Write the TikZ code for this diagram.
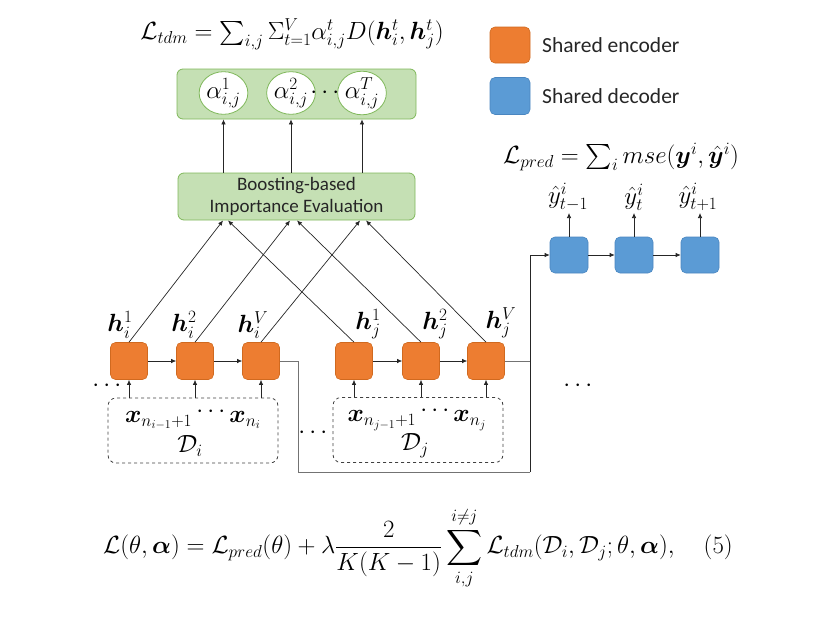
\documentclass[tikz,border=0pt]{standalone}
\usepackage{amsmath,amssymb}
\usepackage{bm}
\usepackage[no-math]{fontspec}
\newfontfamily\calibri{Carlito}
\usetikzlibrary{arrows.meta,shapes.geometric}
\definecolor{encfill}{HTML}{ED7D31}
\definecolor{encdraw}{HTML}{D0691F}
\definecolor{decfill}{HTML}{5B9BD5}
\definecolor{decdraw}{HTML}{4A86C0}
\definecolor{gfill}{HTML}{C5E0B4}
\definecolor{gdraw}{HTML}{7FB85A}
\begin{document}
\begin{tikzpicture}[x=1pt,y=-1pt,
  enc/.style={rectangle, rounded corners=5pt, fill=encfill, draw=encdraw, line width=0.6pt, minimum width=37pt, minimum height=37pt, inner sep=0pt},
  dec/.style={rectangle, rounded corners=5pt, fill=decfill, draw=decdraw, line width=0.6pt, minimum width=38pt, minimum height=36pt, inner sep=0pt},
  gbox/.style={rectangle, rounded corners=6pt, fill=gfill, draw=gdraw, line width=0.8pt, inner sep=0pt},
  ell/.style={ellipse, fill=white, draw=gdraw, line width=0.8pt, minimum width=46pt, minimum height=41pt, inner sep=0pt},
  dbox/.style={rectangle, rounded corners=8pt, draw=black!75, dashed, line width=0.8pt, minimum width=170pt, minimum height=65pt},
  arr/.style={-{Latex[length=5pt,width=4.5pt]}, line width=0.7pt, draw=black!85},
  gline/.style={line width=0.8pt, draw=black!55},
  mfont/.style={font=\fontsize{25}{30}\selectfont, inner sep=0pt},
  xfont/.style={font=\fontsize{23.5}{28}\selectfont, inner sep=0pt},
  afont/.style={font=\fontsize{27}{32}\selectfont},
  sfont/.style={font=\calibri\fontsize{21.5}{25}\selectfont, text=black!85, inner sep=0pt},
  bfont/.style={font=\calibri\fontsize{19}{22}\selectfont, text=black!85, align=center, inner sep=0pt}
]
\useasboundingbox (0,0) rectangle (833,627);

% top formula
\node[font=\fontsize{24}{28}\selectfont, inner sep=0pt] (ltdm) at (292,34) {$\mathcal{L}_{tdm}=\sum_{i,j}\Sigma_{t=1}^{V}\alpha_{i,j}^{t}D(\bm{h}_i^t,\bm{h}_j^t)$};

% legend
\node[enc, minimum width=40pt, minimum height=36pt] (lege) at (510,45) {};
\node[sfont, anchor=west] (legetxt) at (542,45) {Shared encoder};
\node[dec, minimum width=40pt, minimum height=37pt] (legd) at (510,96) {};
\node[sfont, anchor=west] (legdtxt) at (542,96) {Shared decoder};

% top green box with alphas
\node[gbox, minimum width=239pt, minimum height=50pt] (top) at (296.5,94) {};
\node[ell, afont] (c1) at (223.5,93) {$\alpha_{i,j}^{1}$};
\node[ell, afont] (c2) at (291,93) {$\alpha_{i,j}^{2}$};
\node[ell, afont] (c3) at (362,93) {$\alpha_{i,j}^{T}$};
\node[mfont] (cdots) at (327,93) {$\cdots$};

% boosting box
\node[gbox, bfont, minimum width=237pt, minimum height=47pt] (boost) at (296.5,196.5) {Boosting-based\\Importance Evaluation};

\draw[arr] (boost.north -| c1) -- (top.south -| c1);
\draw[arr] (boost.north -| c2) -- (top.south -| c2);
\draw[arr] (boost.north -| c3) -- (top.south -| c3);

% encoder boxes
\node[enc] (i1) at (129,361) {};
\node[enc] (i2) at (195,361) {};
\node[enc] (i3) at (261,361) {};
\node[enc] (j1) at (354,361) {};
\node[enc] (j2) at (421,361) {};
\node[enc] (j3) at (486,361) {};

\node[mfont] (hi1) at (120,325) {$\bm{h}_i^{1}$};
\node[mfont] (hi2) at (184,325) {$\bm{h}_i^{2}$};
\node[mfont] (hi3) at (253,325) {$\bm{h}_i^{V}$};
\node[mfont] (hj1) at (368,324) {$\bm{h}_j^{1}$};
\node[mfont] (hj2) at (435,324) {$\bm{h}_j^{2}$};
\node[mfont] (hj3) at (501,323) {$\bm{h}_j^{V}$};

\draw[arr] (i1) -- (i2);
\draw[arr] (i2) -- (i3);
\draw[arr] (j1) -- (j2);
\draw[arr] (j2) -- (j3);

% lines to boosting box
\coordinate (bi1) at (223,220.5);
\coordinate (bi2) at (290,220.5);
\coordinate (bi3) at (360,220.5);
\coordinate (bj1) at (228,220.5);
\coordinate (bj2) at (297,220.5);
\coordinate (bj3) at (366,220.5);
\draw[arr] (i1.north) -- (bi1);
\draw[arr] (i2.north) -- (bi2);
\draw[arr] (i3.north) -- (bi3);
\draw[arr] (j1.north) -- (bj1);
\draw[arr] (j2.north) -- (bj2);
\draw[arr] (j3.north) -- (bj3);

% dashed data boxes
\node[dbox] (Di) at (193,430.5) {};
\node[dbox] (Dj) at (418,430) {};
\node[xfont] (xi) at (193,418) {$\bm{x}_{n_{i-1}+1}\,\raisebox{5pt}{$\cdots$}\bm{x}_{n_i}$};
\node[mfont] (di) at (190,446) {$\mathcal{D}_i$};
\node[xfont] (xj) at (417,418) {$\bm{x}_{n_{j-1}+1}\,\raisebox{5pt}{$\cdots$}\bm{x}_{n_j}$};
\node[mfont] (dj) at (415,446) {$\mathcal{D}_j$};

\draw[arr] (Di.north -| i1) -- (i1.south);
\draw[arr] (Di.north -| i2) -- (i2.south);
\draw[arr] (Di.north -| i3) -- (i3.south);
\draw[arr] (Dj.north -| j1) -- (j1.south);
\draw[arr] (Dj.north -| j2) -- (j2.south);
\draw[arr] (Dj.north -| j3) -- (j3.south);

\node[mfont] (dotsl) at (109,386) {$\cdots$};
\node[mfont] (dotsm) at (315,433) {$\cdots$};
\node[mfont] (dotsr) at (580,386) {$\cdots$};

% decoder
\node[dec] (d1) at (569,255) {};
\node[dec] (d2) at (634,255) {};
\node[dec] (d3) at (700,255) {};
\draw[arr] (d1) -- (d2);
\draw[arr] (d2) -- (d3);
\node[mfont] (y1) at (568,197) {$\hat{y}_{t-1}^{i}$};
\node[mfont] (y2) at (634,197) {$\hat{y}_{t}^{i}$};
\node[mfont] (y3) at (698,197) {$\hat{y}_{t+1}^{i}$};
\coordinate (ya1) at (569,213);
\coordinate (ya2) at (634,213);
\coordinate (ya3) at (700,213);
\draw[arr] (d1.north) -- (ya1);
\draw[arr] (d2.north) -- (ya2);
\draw[arr] (d3.north) -- (ya3);
\node[mfont] (lpred) at (621,157) {$\mathcal{L}_{pred}=\sum_{i}mse(\bm{y}^{i},\hat{\bm{y}}^{i})$};

% connectors encoder -> decoder
\coordinate (bend) at (298,472);
\coordinate (corner) at (530,472);
\draw[gline] (i3.east) -| (bend) -- (corner);
\draw[gline] (j3.east) -- (j3.east -| corner);
\draw[arr] (corner) |- (d1.west);

% bottom formula
\node[font=\fontsize{25}{30}\selectfont, inner sep=0pt, anchor=west] (eq) at (103,548) {$\mathcal{L}(\theta,\bm{\alpha})=\mathcal{L}_{pred}(\theta)+\lambda\dfrac{2}{K(K-1)}\displaystyle\sum_{i,j}^{i\neq j}\mathcal{L}_{tdm}(\mathcal{D}_i,\mathcal{D}_j;\theta,\bm{\alpha}),\quad(5)$};
\end{tikzpicture}
\end{document}
